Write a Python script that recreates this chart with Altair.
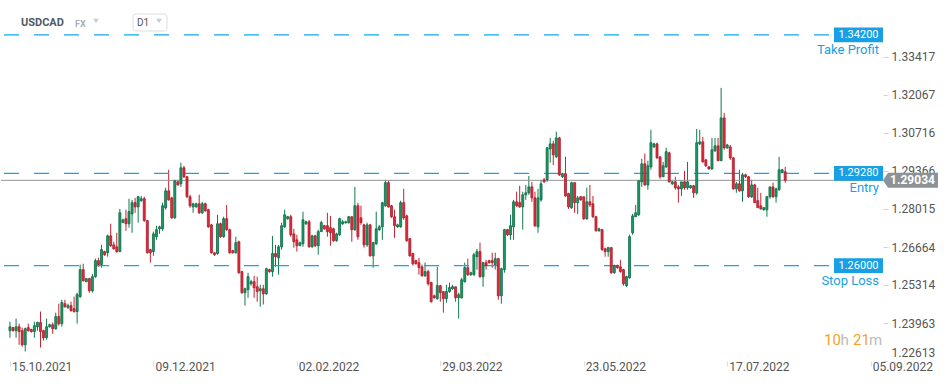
import altair as alt
import numpy as np
import pandas as pd

# ---------------- data (USDCAD, D1) ----------------
open_ = [1.2369,1.2380,1.2369,1.2383,1.2369,1.2319,1.2380,1.2373,1.2366,1.2383,
 1.2398,1.2369,1.2344,1.2383,1.2390,1.2376,1.2419,1.2394,1.2465,1.2451,
 1.2458,1.2447,1.2437,1.2490,1.2586,1.2543,1.2554,1.2511,1.2561,1.2618,
 1.2604,1.2650,1.2646,1.2706,1.2674,1.2667,1.2650,1.2753,1.2767,1.2749,
 1.2784,1.2824,1.2809,1.2831,1.2838,1.2760,1.2657,1.2650,1.2703,1.2731,
 1.2731,1.2806,1.2866,1.2841,1.2770,1.2898,1.2891,1.2948,1.2916,1.2845,
 1.2809,1.2809,1.2820,1.2788,1.2820,1.2799,1.2745,1.2646,1.2643,1.2749,
 1.2703,1.2767,1.2728,1.2653,1.2646,1.2685,1.2579,1.2504,1.2515,1.2536,
 1.2543,1.2525,1.2511,1.2518,1.2500,1.2586,1.2579,1.2643,1.2628,1.2667,
 1.2738,1.2767,1.2774,1.2713,1.2692,1.2671,1.2678,1.2749,1.2756,1.2667,
 1.2706,1.2671,1.2721,1.2742,1.2742,1.2735,1.2731,1.2689,1.2710,1.2749,
 1.2753,1.2753,1.2774,1.2728,1.2813,1.2770,1.2745,1.2674,1.2745,1.2635,
 1.2678,1.2728,1.2738,1.2813,1.2895,1.2813,1.2774,1.2738,1.2738,1.2824,
 1.2777,1.2696,1.2643,1.2618,1.2611,1.2596,1.2564,1.2579,1.2540,1.2493,
 1.2483,1.2529,1.2508,1.2483,1.2508,1.2518,1.2525,1.2486,1.2486,1.2543,
 1.2593,1.2568,1.2568,1.2632,1.2650,1.2561,1.2611,1.2618,1.2618,1.2604,
 1.2625,1.2493,1.2586,1.2728,1.2710,1.2738,1.2827,1.2824,1.2809,1.2852,
 1.2859,1.2880,1.2841,1.2738,1.2834,1.2905,1.2905,1.3015,1.3033,1.2987,
 1.3054,1.2916,1.2927,1.2856,1.2806,1.2895,1.2824,1.2845,1.2845,1.2767,
 1.2827,1.2820,1.2774,1.2724,1.2728,1.2660,1.2650,1.2664,1.2575,1.2600,
 1.2596,1.2586,1.2529,1.2557,1.2717,1.2774,1.2781,1.2898,1.2962,1.2887,
 1.2951,1.3022,1.3033,1.2987,1.2916,1.2951,1.3001,1.2891,1.2898,1.2880,
 1.2873,1.2898,1.2877,1.2877,1.2884,1.2859,1.3033,1.3040,1.2976,1.2951,
 1.2944,1.3008,1.3026,1.2973,1.3125,1.3019,1.3022,1.2983,1.2873,1.2891,
 1.2866,1.2923,1.2916,1.2845,1.2887,1.2831,1.2813,1.2799,1.2799,1.2845,
 1.2880,1.2845,1.2870,1.2930,1.2934]

high = [1.2401,1.2383,1.2412,1.2394,1.2380,1.2380,1.2394,1.2376,1.2401,1.2401,
 1.2437,1.2373,1.2412,1.2394,1.2398,1.2433,1.2465,1.2479,1.2479,1.2465,
 1.2472,1.2490,1.2504,1.2604,1.2607,1.2557,1.2557,1.2571,1.2625,1.2628,
 1.2674,1.2653,1.2710,1.2749,1.2685,1.2717,1.2802,1.2767,1.2799,1.2838,
 1.2834,1.2841,1.2848,1.2848,1.2845,1.2763,1.2660,1.2721,1.2742,1.2742,
 1.2824,1.2877,1.2941,1.2845,1.2905,1.2905,1.2966,1.2955,1.2919,1.2852,
 1.2824,1.2824,1.2852,1.2827,1.2824,1.2802,1.2749,1.2646,1.2781,1.2753,
 1.2774,1.2816,1.2731,1.2657,1.2703,1.2689,1.2582,1.2522,1.2575,1.2550,
 1.2564,1.2561,1.2532,1.2532,1.2593,1.2589,1.2706,1.2674,1.2674,1.2753,
 1.2799,1.2777,1.2781,1.2731,1.2710,1.2685,1.2792,1.2760,1.2763,1.2710,
 1.2710,1.2728,1.2760,1.2745,1.2788,1.2777,1.2735,1.2717,1.2770,1.2763,
 1.2760,1.2777,1.2774,1.2880,1.2824,1.2813,1.2749,1.2753,1.2749,1.2685,
 1.2792,1.2745,1.2827,1.2905,1.2902,1.2816,1.2799,1.2749,1.2831,1.2873,
 1.2781,1.2699,1.2646,1.2621,1.2628,1.2604,1.2611,1.2586,1.2543,1.2497,
 1.2596,1.2532,1.2508,1.2532,1.2540,1.2532,1.2525,1.2504,1.2557,1.2611,
 1.2625,1.2579,1.2646,1.2660,1.2682,1.2614,1.2621,1.2621,1.2646,1.2646,
 1.2628,1.2593,1.2731,1.2731,1.2781,1.2834,1.2863,1.2884,1.2863,1.2887,
 1.2919,1.2898,1.2863,1.2873,1.2905,1.2912,1.3022,1.3054,1.3044,1.3076,
 1.3058,1.2930,1.2987,1.2859,1.2898,1.2895,1.2848,1.2848,1.2845,1.2877,
 1.2887,1.2848,1.2777,1.2735,1.2731,1.2664,1.2667,1.2667,1.2604,1.2604,
 1.2621,1.2589,1.2564,1.2710,1.2784,1.2816,1.2905,1.2980,1.2998,1.2973,
 1.3083,1.3037,1.3037,1.2987,1.2969,1.3019,1.3005,1.2902,1.2916,1.2887,
 1.2898,1.2937,1.2969,1.2887,1.2887,1.3086,1.3083,1.3058,1.2980,1.2955,
 1.3054,1.3054,1.3054,1.3232,1.3143,1.3033,1.3029,1.2987,1.2898,1.2941,
 1.2930,1.2927,1.2919,1.2905,1.2891,1.2877,1.2859,1.2809,1.2848,1.2880,
 1.2895,1.2877,1.2987,1.2944,1.2951]

low = [1.2344,1.2366,1.2344,1.2319,1.2312,1.2295,1.2366,1.2362,1.2344,1.2369,
 1.2309,1.2334,1.2337,1.2380,1.2358,1.2373,1.2387,1.2383,1.2451,1.2447,
 1.2437,1.2433,1.2394,1.2486,1.2543,1.2543,1.2504,1.2504,1.2557,1.2596,
 1.2593,1.2635,1.2632,1.2667,1.2657,1.2646,1.2650,1.2753,1.2724,1.2735,
 1.2717,1.2788,1.2753,1.2827,1.2756,1.2643,1.2611,1.2635,1.2692,1.2713,
 1.2724,1.2799,1.2831,1.2767,1.2767,1.2884,1.2880,1.2912,1.2841,1.2806,
 1.2788,1.2806,1.2784,1.2784,1.2792,1.2735,1.2643,1.2635,1.2639,1.2699,
 1.2699,1.2724,1.2643,1.2643,1.2643,1.2571,1.2500,1.2458,1.2486,1.2529,
 1.2486,1.2472,1.2454,1.2462,1.2497,1.2575,1.2561,1.2596,1.2568,1.2657,
 1.2735,1.2763,1.2703,1.2664,1.2650,1.2671,1.2667,1.2745,1.2664,1.2664,
 1.2667,1.2639,1.2721,1.2728,1.2703,1.2671,1.2685,1.2685,1.2706,1.2745,
 1.2749,1.2749,1.2685,1.2724,1.2692,1.2745,1.2664,1.2667,1.2632,1.2593,
 1.2674,1.2724,1.2692,1.2809,1.2806,1.2770,1.2699,1.2735,1.2735,1.2763,
 1.2685,1.2632,1.2600,1.2604,1.2568,1.2561,1.2561,1.2529,1.2469,1.2483,
 1.2479,1.2472,1.2433,1.2469,1.2504,1.2515,1.2472,1.2412,1.2483,1.2540,
 1.2564,1.2564,1.2564,1.2586,1.2557,1.2525,1.2586,1.2607,1.2593,1.2586,
 1.2479,1.2465,1.2575,1.2706,1.2692,1.2692,1.2809,1.2806,1.2728,1.2834,
 1.2852,1.2827,1.2738,1.2717,1.2827,1.2895,1.2898,1.2966,1.2958,1.2983,
 1.2919,1.2912,1.2845,1.2802,1.2802,1.2788,1.2784,1.2831,1.2763,1.2763,
 1.2809,1.2770,1.2721,1.2721,1.2653,1.2632,1.2632,1.2571,1.2571,1.2589,
 1.2575,1.2529,1.2525,1.2554,1.2710,1.2774,1.2777,1.2880,1.2884,1.2870,
 1.2941,1.3019,1.2980,1.2909,1.2916,1.2948,1.2895,1.2887,1.2870,1.2824,
 1.2848,1.2870,1.2870,1.2873,1.2841,1.2852,1.3029,1.2966,1.2951,1.2941,
 1.2941,1.3005,1.2973,1.2973,1.3012,1.3015,1.2976,1.2870,1.2859,1.2863,
 1.2827,1.2912,1.2841,1.2841,1.2824,1.2806,1.2799,1.2795,1.2774,1.2838,
 1.2841,1.2824,1.2866,1.2930,1.2895]

close = [1.2383,1.2369,1.2383,1.2366,1.2319,1.2376,1.2369,1.2366,1.2387,1.2398,
 1.2366,1.2344,1.2383,1.2390,1.2376,1.2419,1.2394,1.2469,1.2454,1.2458,
 1.2440,1.2437,1.2497,1.2586,1.2547,1.2554,1.2511,1.2561,1.2618,1.2604,
 1.2657,1.2639,1.2706,1.2671,1.2660,1.2650,1.2788,1.2763,1.2749,1.2792,
 1.2824,1.2809,1.2845,1.2838,1.2760,1.2646,1.2646,1.2713,1.2728,1.2738,
 1.2813,1.2866,1.2834,1.2770,1.2902,1.2887,1.2948,1.2916,1.2845,1.2813,
 1.2820,1.2820,1.2788,1.2820,1.2795,1.2738,1.2646,1.2639,1.2749,1.2703,
 1.2767,1.2728,1.2646,1.2646,1.2682,1.2575,1.2504,1.2518,1.2561,1.2543,
 1.2522,1.2508,1.2518,1.2500,1.2589,1.2579,1.2643,1.2632,1.2667,1.2742,
 1.2781,1.2774,1.2710,1.2685,1.2671,1.2682,1.2763,1.2756,1.2667,1.2706,
 1.2671,1.2721,1.2753,1.2731,1.2721,1.2717,1.2689,1.2713,1.2767,1.2756,
 1.2756,1.2774,1.2728,1.2813,1.2703,1.2753,1.2674,1.2745,1.2635,1.2682,
 1.2731,1.2738,1.2824,1.2895,1.2809,1.2774,1.2742,1.2745,1.2824,1.2770,
 1.2689,1.2635,1.2607,1.2607,1.2593,1.2564,1.2579,1.2536,1.2472,1.2486,
 1.2529,1.2504,1.2483,1.2508,1.2522,1.2525,1.2486,1.2497,1.2550,1.2593,
 1.2568,1.2575,1.2639,1.2650,1.2561,1.2611,1.2600,1.2611,1.2611,1.2625,
 1.2493,1.2589,1.2728,1.2710,1.2742,1.2827,1.2813,1.2809,1.2852,1.2859,
 1.2880,1.2841,1.2742,1.2841,1.2891,1.2898,1.3019,1.3033,1.2994,1.3054,
 1.2923,1.2927,1.2848,1.2809,1.2895,1.2824,1.2841,1.2834,1.2767,1.2827,
 1.2816,1.2774,1.2724,1.2731,1.2657,1.2650,1.2664,1.2575,1.2600,1.2593,
 1.2579,1.2536,1.2561,1.2703,1.2777,1.2788,1.2902,1.2962,1.2887,1.2955,
 1.3037,1.3033,1.2983,1.2916,1.2955,1.3005,1.2898,1.2898,1.2877,1.2873,
 1.2898,1.2877,1.2898,1.2884,1.2859,1.3037,1.3040,1.2969,1.2955,1.2944,
 1.3012,1.3026,1.2973,1.3125,1.3019,1.3029,1.2983,1.2873,1.2891,1.2866,
 1.2923,1.2916,1.2845,1.2887,1.2824,1.2806,1.2802,1.2806,1.2845,1.2880,
 1.2845,1.2873,1.2941,1.2941,1.29034]

first_date = "2021-10-15"
tick_labels = ["15.10.2021", "09.12.2021", "02.02.2022", "29.03.2022",
               "23.05.2022", "17.07.2022", "05.09.2022"]
y_ticks = [1.33417, 1.32067, 1.30716, 1.29366, 1.28015, 1.26664, 1.25314, 1.23963, 1.22613]
level_prices = [1.34200, 1.29280, 1.26000]
level_names = ["Take Profit", "Entry", "Stop Loss"]
last_price = 1.29034
symbol = "USDCAD"
market = "FX"
interval = "D1"
timer_parts = ["10", "h", "21", "m"]

# ---------------- build tables ----------------
n = len(close)
dates = pd.bdate_range(first_date, periods=n, freq="C", weekmask="Sun Mon Tue Wed Thu Fri")
df = pd.DataFrame({"i": np.arange(n), "open": open_, "high": high, "low": low, "close": close})
df["dir"] = np.where(df["close"] >= df["open"], "up", "down")


def tick_index(label):
    d = pd.to_datetime(label, format="%d.%m.%Y")
    if d <= dates[-1]:
        return int(dates.searchsorted(d))
    return int((n - 1) + (d - dates[-1]).days)


tick_idx = [tick_index(t) for t in tick_labels]
label_expr = ("[" + ",".join(f"'{t}'" for t in tick_labels) + "][indexof(["
              + ",".join(str(v) for v in tick_idx) + "], datum.value)]")

levels = pd.DataFrame({"price": level_prices, "name": level_names,
                       "label": [f"{p:.5f}" for p in level_prices]})
last_df = pd.DataFrame({"price": [last_price], "label": [f"{last_price:.5f}"]})
one = pd.DataFrame({"k": [0]})

# ---------------- style ----------------
FONT = "Roboto"
BLUE = "#189fe4"
DASH_BLUE = "#12a6ee"
UP_FILL, UP_EDGE, UP_WICK = "#1c9b69", "#0d6a43", "#107a4c"
DN_FILL, DN_EDGE, DN_WICK = "#e42a3b", "#a91d2b", "#c6202f"

W, H = 882, 361
xs = alt.Scale(domain=[-1.3, 284.4], nice=False, zero=False)
ys = alt.Scale(domain=[1.22613, 1.35442], nice=False, zero=False)

x_axis = alt.Axis(values=tick_idx, labelExpr=label_expr, title=None, grid=False,
                  domain=False, tickSize=5, tickColor="#dcdcdc", labelAlign="left",
                  labelFlush=False, labelPadding=-5, labelOffset=1.5, labelFont=FONT,
                  labelFontSize=12, labelColor="#555555")
y_axis = alt.Axis(orient="right", values=y_ticks, format=".5f", title=None, grid=False,
                  domain=False, tickSize=5, tickColor="#d5d5d5", labelFlush=True,
                  labelFlushOffset=-2, labelPadding=3, labelFont=FONT, labelFontSize=12,
                  labelColor="#555555")

# level lines (dashed)
level_lines = alt.Chart(levels).mark_rule(strokeDash=[15, 15], strokeWidth=1.3, color=DASH_BLUE).encode(
    y=alt.Y("price:Q", scale=ys, title=None), x=alt.value(3), x2=alt.value(830))

# current price line
last_line = alt.Chart(last_df).mark_rule(strokeWidth=1, color="#949494").encode(
    y=alt.Y("price:Q", scale=ys, title=None), x=alt.value(0), x2=alt.value(W))

# candles
wick = alt.Chart(df).mark_rule(strokeWidth=1).encode(
    x=alt.X("i:Q", scale=xs, axis=x_axis),
    y=alt.Y("low:Q", scale=ys, axis=y_axis),
    y2="high:Q",
    color=alt.Color("dir:N", scale=alt.Scale(domain=["up", "down"], range=[UP_WICK, DN_WICK]), legend=None))
body = alt.Chart(df).mark_bar(size=2, strokeWidth=0.8).encode(
    x=alt.X("i:Q", scale=xs),
    y=alt.Y("open:Q", scale=ys, title=None),
    y2="close:Q",
    fill=alt.Fill("dir:N", scale=alt.Scale(domain=["up", "down"], range=[UP_FILL, DN_FILL]), legend=None),
    stroke=alt.Stroke("dir:N", scale=alt.Scale(domain=["up", "down"], range=[UP_EDGE, DN_EDGE]), legend=None))

# level tags
BOX = "M-1,-0.3L1,-0.3L1,0.3L-1,0.3Z"
level_box = alt.Chart(levels).mark_point(shape=BOX, filled=True, size=49 * 49, color=BLUE, opacity=1).encode(
    x=alt.value(857.5), y=alt.Y("price:Q", scale=ys, title=None))
level_txt = alt.Chart(levels).mark_text(color="white", font=FONT, fontSize=11, align="center",
                                        baseline="middle").encode(
    x=alt.value(857.5), y=alt.Y("price:Q", scale=ys, title=None), text="label:N")
level_name = alt.Chart(levels).mark_text(color=BLUE, font=FONT, fontSize=13, align="right",
                                         baseline="middle", dy=15).encode(
    x=alt.value(878), y=alt.Y("price:Q", scale=ys, title=None), text="name:N")

# current price tag
TAG = "M-1,0L-0.818,-0.273L1,-0.273L1,0.273L-0.818,0.273Z"
last_box = alt.Chart(last_df).mark_point(shape=TAG, filled=True, size=55 * 55, color="#8c9296", opacity=1).encode(
    x=alt.value(909.5), y=alt.Y("price:Q", scale=ys, title=None))
last_txt = alt.Chart(last_df).mark_text(color="white", font=FONT, fontSize=12, fontWeight="bold",
                                        align="center", baseline="middle").encode(
    x=alt.value(911.5), y=alt.Y("price:Q", scale=ys, title=None), text="label:N")

# header
hdr_sym = alt.Chart(one).mark_text(font=FONT, fontSize=11, fontWeight="bold", color="#4f5a64",
                                   align="left", baseline="middle").encode(
    x=alt.value(20), y=alt.value(23), text=alt.value(symbol))
hdr_mkt = alt.Chart(one).mark_text(font=FONT, fontSize=9, fontWeight="bold", color="#a9afb5",
                                   align="left", baseline="middle").encode(
    x=alt.value(74), y=alt.value(23.5), text=alt.value(market))
hdr_tri1 = alt.Chart(one).mark_point(shape="triangle-down", filled=True, size=30, color="#c8cccf", opacity=1).encode(
    x=alt.value(95), y=alt.value(21))
hdr_box = alt.Chart(one).mark_rect(fill="white", stroke="#dddddd", strokeWidth=1, cornerRadius=3).encode(
    x=alt.value(132), x2=alt.value(166), y=alt.value(14), y2=alt.value(31))
hdr_int = alt.Chart(one).mark_text(font=FONT, fontSize=10, color="#555555", align="left",
                                   baseline="middle").encode(
    x=alt.value(136), y=alt.value(23), text=alt.value(interval))
hdr_tri2 = alt.Chart(one).mark_point(shape="triangle-down", filled=True, size=30, color="#c8cccf", opacity=1).encode(
    x=alt.value(158), y=alt.value(21))

# candle timer
ORANGE, GREY = "#f6a21e", "#b8bcc0"
timer_x = [823, 839.5, 852, 868]
timer_c = [ORANGE, GREY, ORANGE, GREY]
timer = [alt.Chart(one).mark_text(font=FONT, fontSize=15, color=c, align="left", baseline="middle").encode(
    x=alt.value(xp), y=alt.value(340), text=alt.value(t)) for t, xp, c in zip(timer_parts, timer_x, timer_c)]

chart = alt.layer(
    wick, level_lines, last_line, body,
    level_box, level_txt, level_name, last_box, last_txt,
    hdr_sym, hdr_mkt, hdr_tri1, hdr_box, hdr_int, hdr_tri2, *timer
).properties(width=W, height=H, padding=0, background="white"
).configure_view(stroke=None)

chart.save("out.html", embed_options={"renderer": "svg", "actions": False})
